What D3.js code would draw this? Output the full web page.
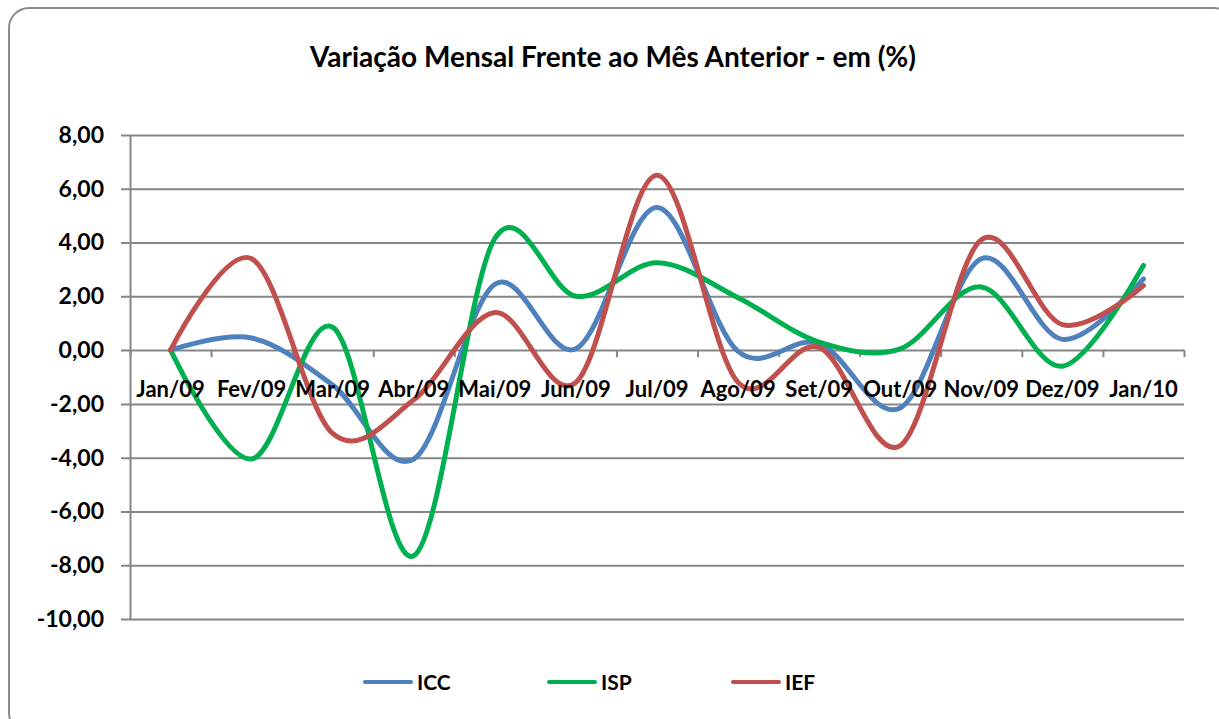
<!DOCTYPE html>
<html>
<head>
<meta charset="utf-8">
<script src="https://cdn.jsdelivr.net/npm/d3@7"></script>
<style>
  body { margin: 0; background: #fff; }
  svg { display: block; font-family: Lato, "Open Sans", sans-serif; font-weight: bold; }
</style>
</head>
<body>
<div id="chart"></div>
<script>
// Months on the x axis
const months = ["Jan/09", "Fev/09", "Mar/09", "Abr/09", "Mai/09", "Jun/09", "Jul/09",
                "Ago/09", "Set/09", "Out/09", "Nov/09", "Dez/09", "Jan/10"];

// Monthly variation (%) per index
const icc = [0, 0.45, -1.3, -4.05, 2.45, 0.05, 5.3, -0.05, 0.25, -2.15, 3.4, 0.4, 2.65];
const isp = [0, -4.05, 0.85, -7.65, 4.15, 2.0, 3.25, 1.95, 0.3, 0.05, 2.35, -0.6, 3.15];
const ief = [0, 3.4, -3.1, -1.85, 1.4, -1.2, 6.5, -1.2, 0.1, -3.55, 4.1, 0.95, 2.4];

const seriesNames = ["ICC", "ISP", "IEF"];
const yTicks = [8, 6, 4, 2, 0, -2, -4, -6, -8, -10];

const colors = { ICC: "#4F81BD", ISP: "#00B050", IEF: "#C0504D" };

const width = 1219, height = 719;
const margin = { top: 135, left: 130, right: 35, bottom: 100 };
const innerWidth = 1184 - margin.left;
const innerHeight = 619 - margin.top;

const svg = d3.select("#chart").append("svg")
    .attr("width", width)
    .attr("height", height);

// outer rounded frame
svg.append("rect")
    .attr("x", 9).attr("y", 8)
    .attr("width", 1225).attr("height", 725)
    .attr("rx", 20)
    .attr("fill", "#fff")
    .attr("stroke", "#8a8a8a")
    .attr("stroke-width", 2);

// title
svg.append("text")
    .attr("x", 613).attr("y", 67)
    .attr("text-anchor", "middle")
    .style("font-size", "28px")
    .attr("fill", "#000")
    .text("Variação Mensal Frente ao Mês Anterior - em (%)");

const g = svg.append("g")
    .attr("transform", `translate(${margin.left},${margin.top})`);

// scales
const x = d3.scaleBand().domain(months).range([0, innerWidth]).padding(0);
const xIdx = d3.scaleLinear().domain([0, months.length]).range([0, innerWidth]);
const y = d3.scaleLinear().domain([-10, 8]).range([innerHeight, 0]);

const fmt = v => v.toFixed(2).replace(".", ",");

// y axis + gridlines
const yAxis = g.append("g")
    .call(d3.axisLeft(y).tickValues(yTicks).tickSizeInner(-innerWidth).tickSizeOuter(0)
        .tickPadding(26).tickFormat(fmt));
yAxis.select(".domain").attr("stroke", "#868686").attr("stroke-width", 2);
yAxis.selectAll(".tick line")
    .attr("x1", -9)
    .attr("stroke", "#868686")
    .attr("stroke-width", 2);
yAxis.selectAll(".tick text")
    .attr("fill", "#000")
    .style("font-size", "23px")
    .style("font-weight", "bold")
    .style("font-family", "Lato, sans-serif");

// category tick marks hanging below the zero line
const xTicks = g.append("g")
    .attr("transform", `translate(0,${y(0)})`)
    .call(d3.axisBottom(xIdx).tickValues(d3.range(months.length + 1)).tickSize(7).tickFormat(""));
xTicks.select(".domain").remove();
xTicks.selectAll(".tick line").attr("stroke", "#868686").attr("stroke-width", 2);

// smoothed lines
const line = d3.line()
    .x((d, i) => x(months[i]) + x.bandwidth() / 2)
    .y(d => y(d))
    .curve(d3.curveCardinal.tension(0));

const seriesData = { ICC: icc, ISP: isp, IEF: ief };
seriesNames.forEach(name => {
    g.append("path")
        .datum(seriesData[name])
        .attr("d", line)
        .attr("fill", "none")
        .attr("stroke", colors[name])
        .attr("stroke-width", 5)
        .attr("stroke-linejoin", "round")
        .attr("stroke-linecap", "round");
});

// category labels, drawn on top of the lines like the original
const xLabels = g.append("g")
    .attr("transform", `translate(0,${y(0)})`)
    .call(d3.axisBottom(x).tickSize(0).tickPadding(31));
xLabels.select(".domain").remove();
xLabels.selectAll(".tick text")
    .attr("fill", "#000")
    .style("font-size", "22px")
    .style("font-weight", "bold")
    .style("font-family", "Lato, sans-serif");

// legend
const legendX = [365, 549, 733];
const legend = svg.append("g");
seriesNames.forEach((name, i) => {
    legend.append("line")
        .attr("x1", legendX[i]).attr("x2", legendX[i] + 46)
        .attr("y1", 682).attr("y2", 682)
        .attr("stroke", colors[name])
        .attr("stroke-width", 4)
        .attr("stroke-linecap", "round");
    legend.append("text")
        .attr("x", legendX[i] + 52).attr("y", 690)
        .style("font-size", "21px")
        .attr("fill", "#000")
        .text(name);
});
</script>
</body>
</html>
